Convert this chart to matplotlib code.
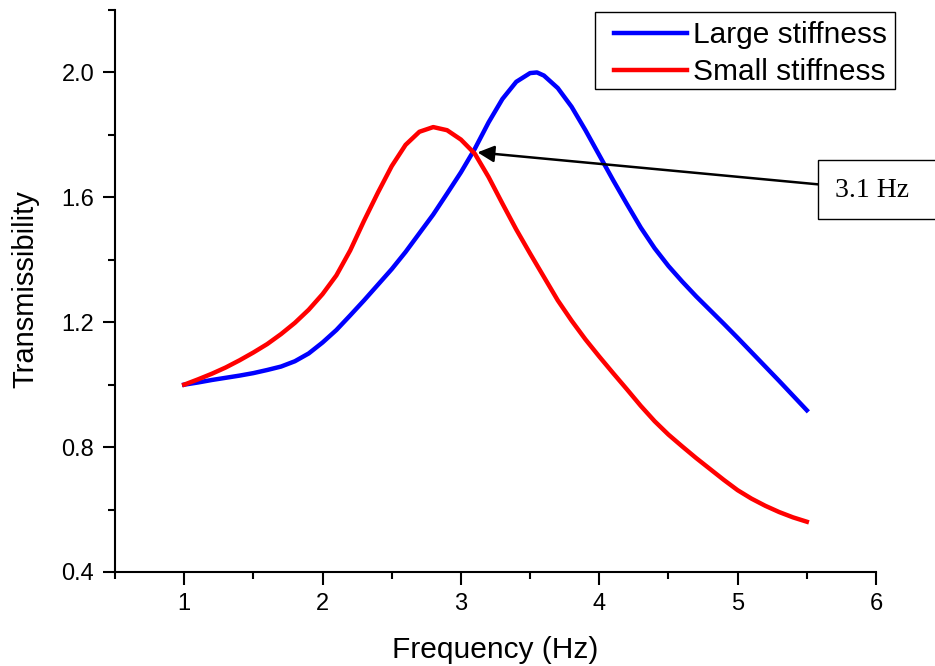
"""
Transmissibility of large vs small stiffness
"""

import matplotlib
matplotlib.use('Agg')
import matplotlib.pyplot as plt  # pylint: disable=import-error
from matplotlib.patches import Rectangle  # pylint: disable=import-error
from matplotlib.ticker import MultipleLocator  # pylint: disable=import-error

matplotlib.rcParams['font.family'] = 'Liberation Sans'

# values
freq_large = [1.0, 1.1, 1.2, 1.3, 1.4, 1.5, 1.6, 1.7, 1.8, 1.9, 2.0, 2.1, 2.2,
              2.3, 2.4, 2.5, 2.6, 2.7, 2.8, 2.9, 3.0, 3.1, 3.2, 3.3, 3.4, 3.5,
              3.55, 3.6, 3.7, 3.8, 3.9, 4.0, 4.1, 4.2, 4.3, 4.4, 4.5, 4.6,
              4.7, 4.8, 4.9, 5.0, 5.1, 5.2, 5.3, 5.4, 5.5]
trans_large = [1.000, 1.007, 1.015, 1.022, 1.029, 1.037, 1.047, 1.058, 1.075,
               1.100, 1.135, 1.175, 1.222, 1.270, 1.320, 1.370, 1.425, 1.485,
               1.545, 1.612, 1.680, 1.755, 1.840, 1.915, 1.970, 1.998, 2.000,
               1.990, 1.950, 1.890, 1.815, 1.735, 1.655, 1.578, 1.503, 1.437,
               1.380, 1.330, 1.283, 1.239, 1.195, 1.150, 1.104, 1.058, 1.012,
               0.965, 0.918]

freq_small = [1.0, 1.1, 1.2, 1.3, 1.4, 1.5, 1.6, 1.7, 1.8, 1.9, 2.0, 2.1, 2.2,
              2.3, 2.4, 2.5, 2.6, 2.7, 2.8, 2.9, 3.0, 3.1, 3.2, 3.3, 3.4, 3.5,
              3.6, 3.7, 3.8, 3.9, 4.0, 4.1, 4.2, 4.3, 4.4, 4.5, 4.6, 4.7, 4.8,
              4.9, 5.0, 5.1, 5.2, 5.3, 5.4, 5.5]
trans_small = [1.000, 1.017, 1.035, 1.055, 1.078, 1.103, 1.130, 1.162, 1.198,
               1.240, 1.290, 1.350, 1.430, 1.525, 1.615, 1.700, 1.768, 1.810,
               1.825, 1.815, 1.785, 1.740, 1.665, 1.580, 1.497, 1.420, 1.345,
               1.270, 1.205, 1.145, 1.090, 1.037, 0.985, 0.932, 0.883, 0.840,
               0.802, 0.765, 0.730, 0.695, 0.662, 0.635, 0.612, 0.592, 0.575,
               0.561]

labels = ['Large stiffness', 'Small stiffness']
cross_point = (3.12, 1.744)
cross_text = '3.1 Hz'


def px_box(fig, ax, x0, y0, x1, y1):
    """rectangle given in picture pixels (y down)"""
    w, h = fig.get_size_inches() * fig.dpi
    rect = Rectangle((x0 / w, 1 - y1 / h), (x1 - x0) / w, (y1 - y0) / h,
                     transform=fig.transFigure, fc='white', ec='black',
                     lw=1.0, clip_on=False, zorder=4)
    ax.add_patch(rect)
    return rect


def main():
    """
    Docstring
    """
    fig = plt.figure(figsize=(9.35, 6.66), dpi=100)
    ax = fig.add_axes([115 / 935, 94 / 666, 761 / 935, 562 / 666])

    ax.plot(freq_large, trans_large, color='#0000ff', lw=3.2, label=labels[0])
    ax.plot(freq_small, trans_small, color='#ff0000', lw=3.2, label=labels[1])

    ax.set_xlim(0.5, 6)
    ax.set_ylim(0.4, 2.2)
    ax.xaxis.set_minor_locator(MultipleLocator(0.5))
    ax.yaxis.set_minor_locator(MultipleLocator(0.2))
    ax.set_xticks([1, 2, 3, 4, 5, 6])
    ax.set_yticks([0.4, 0.8, 1.2, 1.6, 2.0])

    ax.spines['top'].set_visible(False)
    ax.spines['right'].set_visible(False)
    for sp in ['left', 'bottom']:
        ax.spines[sp].set_linewidth(1.5)

    ax.tick_params(direction='out', which='major', length=9, width=1.5,
                   labelsize=17, pad=6)
    ax.tick_params(direction='out', which='minor', length=5, width=1.5)

    ax.set_xlabel('Frequency (Hz)', fontsize=21.5)
    ax.set_ylabel('Transmissibility', fontsize=21)
    ax.xaxis.set_label_coords(495 / 935, 16 / 666, transform=fig.transFigure)
    ax.yaxis.set_label_coords(25 / 935, 377 / 666, transform=fig.transFigure)
    ax.xaxis.label.set_va('center')
    ax.yaxis.label.set_va('center')

    # legend frame drawn by hand, wider on the left like the original
    px_box(fig, ax, 595, 12, 895, 89)
    leg = ax.legend(loc='upper right', bbox_to_anchor=(887 / 935, 645 / 666),
                    bbox_transform=fig.transFigure, borderaxespad=0,
                    fontsize=21.5, handlelength=2.45, handletextpad=0.2,
                    labelspacing=0.3, borderpad=0, frameon=False)
    leg.set_zorder(6)

    # annotation box runs off the right edge
    px_box(fig, ax, 818, 160, 945, 219)
    ax.text(5.705, 1.622, cross_text, fontsize=20, family='Liberation Serif',
            va='center', ha='left', zorder=6)
    ax.annotate('', xy=cross_point, xytext=(5.581, 1.6416),
                arrowprops={'arrowstyle': '-|>', 'color': 'black', 'lw': 1.8,
                            'mutation_scale': 25, 'shrinkA': 0,
                            'shrinkB': 0},
                annotation_clip=False)

    fig.savefig('out.png', dpi=100)


if __name__ == "__main__":
    main()
